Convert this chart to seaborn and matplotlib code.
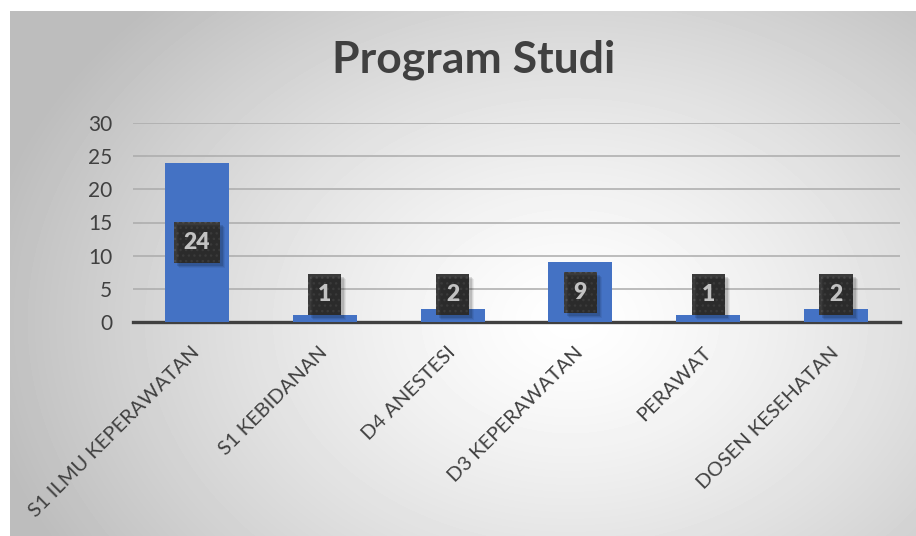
import numpy as np
import pandas as pd
import matplotlib
matplotlib.use("Agg")
import matplotlib.pyplot as plt
from matplotlib.patches import Rectangle
from matplotlib.ticker import FixedLocator
import seaborn as sns

categories = ["S1 ILMU KEPERAWATAN", "S1 KEBIDANAN", "D4 ANESTESI",
              "D3 KEPERAWATAN", "PERAWAT", "DOSEN KESEHATAN"]
counts = [24, 1, 2, 9, 1, 2]
y_ticks = [0, 5, 10, 15, 20, 25, 30]
title = "Program Studi"

FONT = "Lato"
BAR = "#4472C4"
INK = "#404040"

sns.set_theme(style="white")
plt.rcParams["font.family"] = [FONT, "DejaVu Sans"]

fig = plt.figure(figsize=(9.16, 5.36), dpi=100)
fig.patch.set_facecolor("white")

# radial grey backdrop of the chart panel
bg = fig.add_axes([10 / 916, 0, 906 / 916, 525 / 536], zorder=-5)
W, H = 906, 525
xx, yy = np.meshgrid(np.arange(W), np.arange(H))
cx, cy = 560, 310
r = np.sqrt(((xx - cx) / 560.0) ** 2 + ((yy - cy) / 420.0) ** 2)
shade = np.clip(1.0 - 0.24 * r ** 1.3, 0.74, 1.0)
bg.imshow(shade, cmap="gray", vmin=0, vmax=1, aspect="auto",
          extent=(0, W, H, 0), interpolation="bilinear")
bg.set_axis_off()

ax = fig.add_axes([133 / 916, 1 - 322 / 536, 767 / 916, 199 / 536])
ax.set_facecolor("none")

df = pd.DataFrame({"Program": categories, "Jumlah": counts})
sns.barplot(data=df, x="Program", y="Jumlah", color=BAR, width=0.5,
            saturation=1, linewidth=0, ax=ax, zorder=3)

ax.set_ylim(0, 30)
ax.set_xlim(-0.5, len(categories) - 0.5)
ax.set_yticks(y_ticks)
ax.set_yticklabels([str(t) for t in y_ticks], fontsize=15, color=INK)
ax.yaxis.grid(True, color="#ababab", lw=1.1, zorder=0)
ax.set_axisbelow(True)

ax.set_xticks(range(len(categories)))
ax.set_xticklabels(categories, rotation=45, ha="right", va="center",
                   rotation_mode="anchor", fontsize=14.5, color=INK)
ax.xaxis.set_minor_locator(FixedLocator(np.arange(-0.5, len(categories), 1.0)))
ax.tick_params(axis="x", which="major", length=0, pad=20)
ax.tick_params(axis="x", which="minor", length=7, width=2.2, color=INK, direction="out")
ax.tick_params(axis="y", length=0, pad=15)
for s in ["top", "right", "left"]:
    ax.spines[s].set_visible(False)
ax.spines["bottom"].set_color(INK)
ax.spines["bottom"].set_linewidth(2.4)
ax.set_xlabel("")
ax.set_ylabel("")

# value badges on the bars
badges = []
for i, v in enumerate(counts):
    ypos = max(v / 2.0, 4.2)
    t = ax.text(i, ypos, str(v), ha="center", va="center", fontsize=16.5,
                fontweight="heavy", color="white", zorder=6,
                bbox=dict(boxstyle="square,pad=0.44", fc="#3a3a3a", ec="#4e4e4e",
                          lw=0, hatch="..."))
    badges.append(t)

fig.text(474 / 916, 1 - 60 / 536, title, ha="center", va="center",
         fontsize=32, fontweight="bold", color=INK)

# soft drop shadow behind each badge
fig.canvas.draw()
for t in badges:
    ext = t.get_bbox_patch().get_window_extent()
    for k, a in ((5, 0.06), (4, 0.08), (3, 0.12)):
        fig.patches.append(Rectangle((ext.x0 + k, ext.y0 - k), ext.width, ext.height,
                                     transform=None, fc="black", ec="none",
                                     alpha=a, zorder=4, figure=fig))

fig.savefig("out.png", dpi=100)
